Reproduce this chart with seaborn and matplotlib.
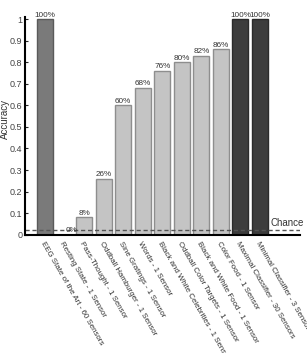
import matplotlib
matplotlib.use("Agg")
import matplotlib.pyplot as plt
import seaborn as sns
import pandas as pd

categories = [
    "EEG State of the Art - 60 Sensors",
    "Resting State - 1 Sensor",
    "Pass-Thought - 1 Sensor",
    "Oddball Hamburger - 1 Sensor",
    "Sine Gratings - 1 Sensor",
    "Words - 1 Sensor",
    "Black and White Celebrities - 1 Sensor",
    "Oddball Color Targets - 1 Sensor",
    "Black and White Food - 1 Sensor",
    "Color Food - 1 Sensor",
    "Maximal Classifier - 30 Sensors",
    "Minimal Classifier - 3 Sensors",
]
accuracy = [1.00, 0.00, 0.08, 0.26, 0.60, 0.68, 0.76, 0.80, 0.83, 0.86, 1.00, 1.00]
value_labels = ["100%", "0%", "8%", "26%", "60%", "68%", "76%", "80%", "82%", "86%", "100%", "100%"]
groups = ["state", "study", "study", "study", "study", "study", "study", "study", "study", "study", "ours", "ours"]
chance = 0.02
yticks = [0, 0.1, 0.2, 0.3, 0.4, 0.5, 0.6, 0.7, 0.8, 0.9, 1]
ytick_labels = ["0", "0.1", "0.2", "0.3", "0.4", "0.5", "0.6", "0.7", "0.8", "0.9", "1"]

group_colors = {"state": "#7a7a7a", "study": "#c4c4c4", "ours": "#3c3c3c"}
edge_colors = {"state": "#5a5a5a", "study": "#8e8e8e", "ours": "#2a2a2a"}

df = pd.DataFrame({"cat": categories, "acc": accuracy, "grp": groups})

sns.set_style("white")
plt.rcParams["font.family"] = ["Liberation Sans", "DejaVu Sans"]

fig = plt.figure(figsize=(3.07, 3.53), dpi=100)
ax = fig.add_axes([25 / 307, 1 - 234.7 / 353, 275 / 307, (234.7 - 17) / 353])

palette = {c: group_colors[g] for c, g in zip(categories, groups)}
sns.barplot(data=df, x="cat", y="acc", hue="cat", palette=palette, legend=False,
            width=0.82, ax=ax, saturation=1)
for patch, g in zip(ax.patches, groups):
    patch.set_edgecolor(edge_colors[g])
    patch.set_linewidth(1.0)

for i, (v, lab) in enumerate(zip(accuracy, value_labels)):
    dx = 0.35 if v == 0 else 0
    ax.text(i + dx, v + 0.003, lab, ha="center", va="bottom", fontsize=5.9, color="#333333")

ax.axhline(chance, color="#555555", linestyle=(0, (3, 2)), linewidth=1.0)
ax.text(11.55, chance + 0.012, "Chance", ha="left", va="bottom", fontsize=7, color="#333333")

ax.set_xlim(-1.02, 13.05)
ax.set_ylim(0, 1.01)
ax.set_yticks(yticks)
ax.set_yticklabels(ytick_labels, fontsize=6.5, color="#444444")
ax.tick_params(axis="y", direction="in", length=2.5, width=0.8, pad=2, left=True)
ax.set_xticks(range(len(categories)))
ax.set_xticklabels(categories, rotation=-60, ha="left", va="top", rotation_mode="anchor",
                   fontsize=5.7, color="#333333")
ax.tick_params(axis="x", length=0, pad=4)
ax.set_xlabel("")
ax.set_ylabel("Accuracy", fontsize=7, color="#333333")
ax.yaxis.set_label_coords(-0.055, 0.53)

for s in ["top", "right"]:
    ax.spines[s].set_visible(False)
for s in ["left", "bottom"]:
    ax.spines[s].set_color("black")
    ax.spines[s].set_linewidth(1.5)

fig.savefig("out.png", dpi=100)
